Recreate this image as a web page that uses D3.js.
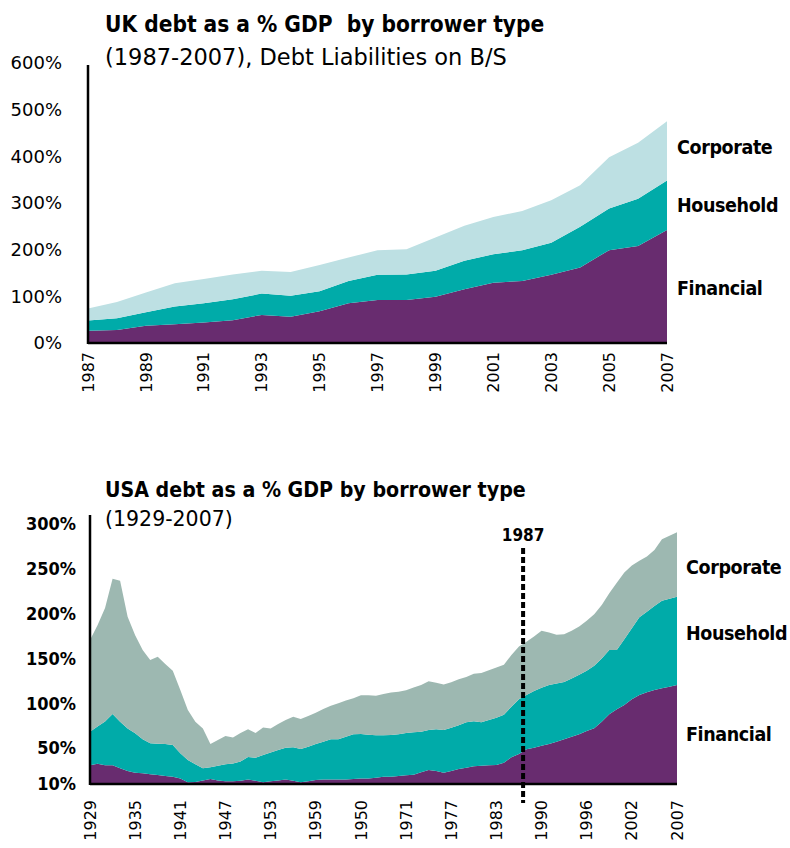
<!DOCTYPE html>
<html>
<head>
<meta charset="utf-8">
<script src="https://cdn.jsdelivr.net/npm/d3@7"></script>
<style>
  body { margin: 0; background: #fff; }
  .title { font-family: "DejaVu Sans Condensed", "DejaVu Sans", sans-serif; font-weight: bold; white-space: pre; }
  .cond { font-family: "DejaVu Sans Condensed", "DejaVu Sans", sans-serif; }
  .sub { font-family: "DejaVu Sans", sans-serif; }
  .tick { font-family: "DejaVu Sans", sans-serif; }
</style>
</head>
<body>
<div id="chart"></div>
<script>
// ---------------------- DATA ----------------------
var ukYears = [1987, 1988, 1989, 1990, 1991, 1992, 1993, 1994, 1995, 1996, 1997,
               1998, 1999, 2000, 2001, 2002, 2003, 2004, 2005, 2006, 2007];
var ukTickLabels = ["1987", "1989", "1991", "1993", "1995", "1997", "1999", "2001", "2003", "2005", "2007"];
var ukYTicks = [0, 100, 200, 300, 400, 500, 600];

var ukFinancial = [26, 28, 37, 40, 44, 49, 60, 56, 68, 85, 92, 92, 99, 115, 129, 133, 146, 162, 199, 208, 242];
var ukHousehold = [22, 25, 29, 38, 41, 45, 46, 45, 43, 48, 54, 55, 56, 61, 61, 66, 69, 87, 89, 101, 106];
var ukCorporate = [26, 35, 42, 50, 52, 53, 49, 51, 56, 50, 53, 54, 71, 75, 80, 84, 91, 89, 110, 120, 127];

// USA: one value per category, labelled every 6th category (labels as printed on the source)
var usTickLabels = ["1929", "1935", "1941", "1947", "1953", "1959", "1950", "1971", "1977", "1983", "1990", "1996", "2002", "2007"];
var usYTicks = [10, 50, 100, 150, 200, 250, 300];
var usMarker = "1987";

var usFinancial = [31, 32.5, 31, 31, 27.5, 24.6, 22.6, 22, 21, 20,
                   19, 18, 16, 12, 12.3, 14, 15.6, 14, 13, 13,
                   13.5, 15, 13.5, 12, 13, 14, 15, 13.5, 12, 13,
                   14.5, 15, 15, 15, 15, 15.5, 16, 16, 17, 18,
                   18, 19, 19.7, 20.4, 23, 25.6, 24.5, 22.6, 24.5, 26.7,
                   28.2, 29.7, 30.4, 30.8, 31.2, 33.8, 39.8, 43.5, 48.7, 50.5,
                   52.7, 54.6, 57.2, 59.8, 62.8, 65.4, 69.1, 72.1, 79.5, 87.7,
                   93.3, 98.1, 104.4, 109.3, 112.3, 114.8, 116.7, 118.5, 120.4];
var usHousehold = [37.4, 41.5, 48.7, 57, 52, 47.4, 43.9, 37.8, 34.4, 35,
                   35.6, 35.5, 28.2, 24.8, 19.7, 13.5, 13, 16.4, 19, 20,
                   21.5, 25, 25.9, 30.3, 32, 34, 35.5, 37.5, 37, 38.6,
                   40.1, 42, 44.8, 45, 47.8, 49.9, 49.8, 49, 47.3, 46.3,
                   46.7, 46.4, 47.2, 47.2, 45.3, 44.6, 46.5, 47.6, 48.3, 48.8,
                   50.6, 50.3, 48.4, 50.6, 52.8, 53.5, 56.4, 60.9, 60.6, 63.2,
                   64.7, 65.8, 65, 63.9, 65, 66.5, 67.2, 69.8, 70.5, 71.8,
                   66.2, 73.3, 79.2, 86.6, 89.9, 93.7, 97.7, 98.2, 98.5];
var usCorporate = [102.2, 113, 126.5, 151, 157.3, 124.6, 109.5, 99.7, 92.9, 97,
                   89.2, 82.9, 70.6, 55.7, 47.5, 44.5, 26, 28.6, 31.5, 29,
                   31.9, 31, 27.6, 30.7, 27, 29, 30.9, 34, 33.5, 34.2,
                   34.9, 36.6, 37.5, 40, 40.2, 40.2, 43.2, 44, 44.2, 46.1,
                   47.3, 47.6, 47.6, 49.9, 52.1, 54.3, 52, 50.8, 50.6, 51.3,
                   50.5, 53, 55, 55.6, 56, 55.7, 57.8, 58.9, 59.5, 60.7,
                   63.4, 58.6, 54.2, 53.3, 53, 53.7, 55.7, 57.4, 59.6, 63.2,
                   75.1, 74.4, 70, 63, 61.5, 62.5, 68.6, 70.3, 71.8];

var seriesKeys = ["Financial", "Household", "Corporate"];

(function() {
    var width = 790,
        height = 848;

    var svg = d3.select("#chart")
        .append("svg")
        .attr("width", width)
        .attr("height", height);

    var purple = "#682c6f",
        teal = "#00aba9";

// ---------------------- UK CHART ----------------------
    var ukRows = ukYears.map(function(y, i) {
        return { x: y, Financial: ukFinancial[i], Household: ukHousehold[i], Corporate: ukCorporate[i] };
    });

    var ukX = d3.scaleLinear().domain([1987, 2007]).range([88, 667]);
    var ukY = d3.scaleLinear().domain([0, 600]).range([343, 63]);
    var ukColor = d3.scaleOrdinal().domain(seriesKeys).range([purple, teal, "#bde0e3"]);

    drawPanel({
        rows: ukRows, x: ukX, y: ukY, color: ukColor,
        xTicks: ukTickLabels.map(function(t) { return { pos: +t, label: t }; }),
        yTicks: ukYTicks, yLabelX: 62, yLabelClass: "sub", yLabelSize: 18, yLabelWeight: "normal",
        axisTop: 65, labelX: 677, labelShift: [2, 0, -4],
        title: "UK debt as a % GDP  by borrower type", titleY: 32, titleSize: 22.5,
        sub: "(1987-2007), Debt Liabilities on B/S", subY: 65, subSize: 22.5,
        xLabelTop: 352
    });

// ---------------------- USA CHART ----------------------
    var usRows = usFinancial.map(function(v, i) {
        return { x: i, Financial: v, Household: usHousehold[i], Corporate: usCorporate[i] };
    });

    var usX = d3.scaleLinear().domain([0, usFinancial.length - 1]).range([90, 677]);
    var usY = d3.scaleLinear().domain([10, 300]).range([784, 524]);
    var usColor = d3.scaleOrdinal().domain(seriesKeys).range([purple, teal, "#9db8b1"]);

    var usPanel = drawPanel({
        rows: usRows, x: usX, y: usY, color: usColor,
        xTicks: usTickLabels.map(function(t, i) { return { pos: i * 6, label: t }; }),
        yTicks: usYTicks, yLabelX: 76, yLabelClass: "cond", yLabelSize: 18, yLabelWeight: "bold",
        axisTop: 515, labelX: 686, labelShift: [-5, -8, 3],
        title: "USA debt as a % GDP by borrower type", titleY: 497, titleSize: 21.2,
        sub: "(1929-2007)", subY: 526, subSize: 20.5,
        xLabelTop: 800
    });

    // dashed marker line at 1987 (between categories 57 and 58)
    var mx = usX(57.55);
    usPanel.append("line")
        .attr("x1", mx).attr("x2", mx)
        .attr("y1", 548).attr("y2", 803)
        .attr("stroke", "#000")
        .attr("stroke-width", 4)
        .attr("stroke-dasharray", "6,3");
    usPanel.append("text")
        .attr("class", "cond")
        .attr("x", mx).attr("y", 541)
        .attr("text-anchor", "middle")
        .style("font-size", "17px")
        .style("font-weight", "bold")
        .text(usMarker);

// ---------------------- SHARED PANEL DRAWING ----------------------
    function drawPanel(o) {
        var g = svg.append("g");
        var y0 = o.y.range()[0];
        var xr = o.x.range();

        var clipId = "clip" + Math.round(y0);
        g.append("clipPath").attr("id", clipId)
            .append("rect")
            .attr("x", xr[0]).attr("y", 0)
            .attr("width", xr[1] - xr[0]).attr("height", y0);

        var stacked = d3.stack().keys(seriesKeys)(o.rows);

        var area = d3.area()
            .x(function(d) { return o.x(d.data.x); })
            .y0(function(d) { return o.y(d[0]); })
            .y1(function(d) { return o.y(d[1]); });

        g.append("g")
            .attr("clip-path", "url(#" + clipId + ")")
            .selectAll("path")
            .data(stacked)
            .enter().append("path")
            .attr("fill", function(d) { return o.color(d.key); })
            .attr("d", area);

        // axis lines
        g.append("line")
            .attr("x1", xr[0]).attr("x2", xr[0])
            .attr("y1", o.axisTop).attr("y2", y0 + 1)
            .attr("stroke", "#000").attr("stroke-width", 2.5);
        g.append("line")
            .attr("x1", xr[0]).attr("x2", xr[1])
            .attr("y1", y0).attr("y2", y0)
            .attr("stroke", "#000").attr("stroke-width", 2.5);

        // y tick labels
        g.selectAll(".ylab")
            .data(o.yTicks)
            .enter().append("text")
            .attr("class", o.yLabelClass)
            .attr("x", o.yLabelX)
            .attr("y", function(d) { return o.y(d); })
            .attr("dy", "0.35em")
            .attr("text-anchor", "end")
            .style("font-size", o.yLabelSize + "px")
            .style("font-weight", o.yLabelWeight)
            .text(function(d) { return d + "%"; });

        // x tick labels, rotated
        g.selectAll(".xlab")
            .data(o.xTicks)
            .enter().append("text")
            .attr("class", "tick")
            .attr("transform", function(d) {
                return "translate(" + o.x(d.pos) + "," + o.xLabelTop + ") rotate(-90)";
            })
            .attr("dy", "0.35em")
            .attr("text-anchor", "end")
            .style("font-size", "16px")
            .text(function(d) { return d.label; });

        // series labels at right, centred on each band's last value
        var last = stacked.map(function(s, i) {
            var p = s[s.length - 1];
            return { key: s.key, mid: (p[0] + p[1]) / 2, shift: o.labelShift[i] };
        });
        g.selectAll(".slab")
            .data(last)
            .enter().append("text")
            .attr("class", "title")
            .attr("x", o.labelX)
            .attr("y", function(d) { return o.y(Math.max(d.mid, o.y.domain()[0] + 30)) + d.shift; })
            .attr("dy", "0.35em")
            .style("font-size", "19.5px")
            .style("letter-spacing", "-0.4px")
            .text(function(d) { return d.key; });

        // titles
        g.append("text")
            .attr("class", "title")
            .attr("x", 105).attr("y", o.titleY)
            .style("font-size", o.titleSize + "px")
            .text(o.title);
        g.append("text")
            .attr("class", "sub")
            .attr("x", 105).attr("y", o.subY)
            .style("font-size", o.subSize + "px")
            .text(o.sub);

        return g;
    }
})();
</script>
</body>
</html>
